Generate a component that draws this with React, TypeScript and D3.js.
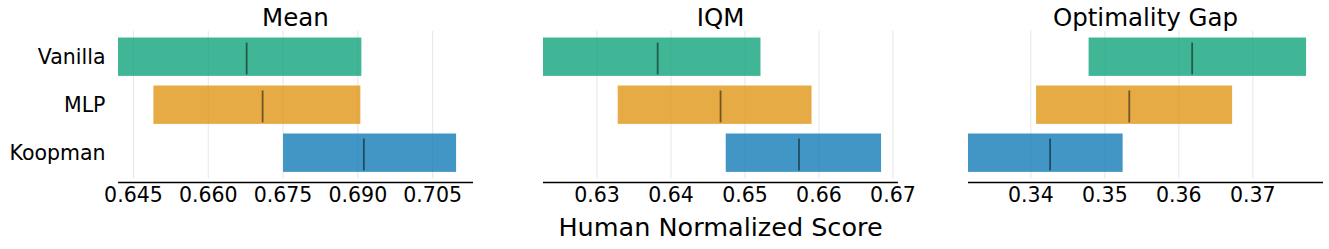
import React from "react";
import * as d3 from "d3";

const width = 1329;
const height = 249;
const font = "DejaVu Sans, Liberation Sans, sans-serif";

const algorithms = ["Vanilla", "MLP", "Koopman"];
const colors = ["#029e73", "#de8f05", "#0173b2"];

const metrics = ["Mean", "IQM", "Optimality Gap"];

// [low, high] confidence intervals and point estimates, per metric, in algorithm order
const meanLow = [0.6419, 0.649, 0.675];
const meanHigh = [0.6907, 0.6905, 0.7097];
const meanPoint = [0.6677, 0.6709, 0.6912];

const iqmLow = [0.6227, 0.6328, 0.6474];
const iqmHigh = [0.6521, 0.659, 0.6684];
const iqmPoint = [0.6382, 0.6467, 0.6573];

const gapLow = [0.3478, 0.3407, 0.3315];
const gapHigh = [0.3772, 0.3672, 0.3524];
const gapPoint = [0.3618, 0.3533, 0.3426];

const meanTicks = [0.645, 0.66, 0.675, 0.69, 0.705];
const iqmTicks = [0.63, 0.64, 0.65, 0.66, 0.67];
const gapTicks = [0.34, 0.35, 0.36, 0.37];

const tickFormats = [d3.format(".3f"), d3.format(".2f"), d3.format(".2f")];

const panels = [
  { low: meanLow, high: meanHigh, point: meanPoint, ticks: meanTicks },
  { low: iqmLow, high: iqmHigh, point: iqmPoint, ticks: iqmTicks },
  { low: gapLow, high: gapHigh, point: gapPoint, ticks: gapTicks },
];

const panelLeft = 118;
const panelWidth = 355;
const panelGap = 70;
const plotTop = 30.8;
const plotBottom = 178.6;
const spineY = 182.5;

const y = d3
  .scaleBand<string>()
  .domain(algorithms)
  .range([plotTop, plotBottom])
  .paddingInner(0.2)
  .paddingOuter(0.14);

const Panel = ({ index }: { index: number }) => {
  const p = panels[index];
  const x0 = panelLeft + index * (panelWidth + panelGap);
  const lo = d3.min(p.low) as number;
  const hi = d3.max(p.high) as number;
  const x = d3
    .scaleLinear()
    .domain([lo, hi + 0.05 * (hi - lo)])
    .range([x0, x0 + panelWidth]);
  const fmt = tickFormats[index];
  return (
    <g>
      {p.ticks.map((t) => (
        <line
          key={"g" + t}
          x1={x(t)}
          x2={x(t)}
          y1={plotTop}
          y2={plotBottom}
          stroke="#e6e6e6"
          strokeWidth={1}
        />
      ))}
      {algorithms.map((a, i) => {
        const by = y(a) as number;
        const bh = y.bandwidth();
        return (
          <g key={a}>
            <rect
              x={x(p.low[i])}
              y={by}
              width={x(p.high[i]) - x(p.low[i])}
              height={bh}
              fill={colors[i]}
              fillOpacity={0.75}
            />
            <line
              x1={x(p.point[i])}
              x2={x(p.point[i])}
              y1={by + 5}
              y2={by + bh - 1.5}
              stroke="#000"
              strokeOpacity={0.5}
              strokeWidth={1.8}
            />
          </g>
        );
      })}
      <line
        x1={x0}
        x2={x0 + panelWidth}
        y1={spineY}
        y2={spineY}
        stroke="#000"
        strokeWidth={1.3}
      />
      {p.ticks.map((t) => (
        <text
          key={"t" + t}
          x={x(t)}
          y={202}
          textAnchor="middle"
          fontSize={20.5}
          fontFamily={font}
          fill="#000"
        >
          {fmt(t)}
        </text>
      ))}
      <text
        x={x0 + panelWidth / 2}
        y={26}
        textAnchor="middle"
        fontSize={24.5}
        fontFamily={font}
        fill="#000"
      >
        {metrics[index]}
      </text>
      {index === 0 &&
        algorithms.map((a) => (
          <text
            key={"l" + a}
            x={x0 - 12.5}
            y={(y(a) as number) + y.bandwidth() / 2 + 7.5}
            textAnchor="end"
            fontSize={20.5}
            fontFamily={font}
            fill="#000"
          >
            {a}
          </text>
        ))}
    </g>
  );
};

export default function App() {
  return (
    <svg
      width={width}
      height={height}
      style={{ position: "absolute", left: 0, top: 0, background: "#fff" }}
    >
      {panels.map((_, i) => (
        <Panel key={i} index={i} />
      ))}
      <text
        x={panelLeft + panelWidth + panelGap + panelWidth / 2}
        y={236}
        textAnchor="middle"
        fontSize={25.5}
        fontFamily={font}
        fill="#000"
      >
        Human Normalized Score
      </text>
    </svg>
  );
}
